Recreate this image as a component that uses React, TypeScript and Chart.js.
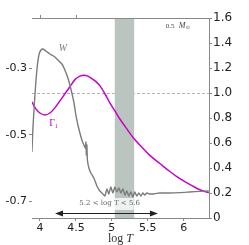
import React, { useEffect, useRef } from "react";
import { Chart, registerables } from "chart.js";

Chart.register(...registerables);

const X_TICKS = [4, 4.5, 5, 5.5, 6];
const TOP_TICKS = [4, 4.5];
const LEFT_TICKS = [-0.3, -0.5, -0.7];

const W_LOGT = [3.889, 3.903, 3.931, 3.958, 3.986, 4.014, 4.042, 4.083, 4.139, 4.208, 4.25, 4.306, 4.347, 4.389, 4.417, 4.444, 4.472, 4.5, 4.528, 4.556, 4.583, 4.611, 4.632, 4.639, 4.646, 4.653, 4.66, 4.681, 4.708, 4.75, 4.792, 4.833, 4.875, 4.903, 4.931, 4.958, 4.986, 5.014, 5.042, 5.069, 5.097, 5.125, 5.153, 5.181, 5.208, 5.236, 5.264, 5.292, 5.319, 5.347, 5.375, 5.403, 5.431, 5.458, 5.486, 5.528, 5.597, 5.667, 5.806, 5.944, 6.083, 6.222, 6.347];
const W_VALUES = [-0.552, -0.48, -0.381, -0.306, -0.261, -0.246, -0.243, -0.249, -0.258, -0.267, -0.276, -0.288, -0.306, -0.33, -0.351, -0.375, -0.402, -0.441, -0.471, -0.495, -0.516, -0.531, -0.54, -0.522, -0.561, -0.531, -0.576, -0.6, -0.615, -0.63, -0.654, -0.669, -0.678, -0.684, -0.663, -0.678, -0.657, -0.675, -0.657, -0.672, -0.66, -0.675, -0.663, -0.681, -0.669, -0.684, -0.672, -0.687, -0.672, -0.684, -0.675, -0.684, -0.675, -0.681, -0.675, -0.678, -0.677, -0.675, -0.675, -0.674, -0.672, -0.67, -0.669];

const G_LOGT = [3.889, 3.944, 4.0, 4.069, 4.139, 4.208, 4.278, 4.347, 4.417, 4.486, 4.556, 4.611, 4.667, 4.722, 4.778, 4.833, 4.903, 4.972, 5.042, 5.111, 5.181, 5.292, 5.431, 5.528, 5.667, 5.806, 5.903, 6.014, 6.125, 6.222, 6.347];
const G_VALUES = [0.929, 0.873, 0.84, 0.824, 0.84, 0.881, 0.937, 0.994, 1.05, 1.107, 1.135, 1.143, 1.135, 1.115, 1.091, 1.059, 0.994, 0.921, 0.857, 0.792, 0.735, 0.646, 0.558, 0.501, 0.436, 0.372, 0.331, 0.291, 0.255, 0.226, 0.202];

const BAND = [5.04, 5.31];
const ARROW_RANGE = [4.21, 5.64];
const ARROW_W = -0.735;
const REF_GAMMA = 1.0;

const GRAY = "#7c7c7c";
const MAGENTA = "#c800c8";

const annotPlugin = {
  id: "annot",
  beforeDatasetsDraw(chart: any) {
    const { ctx, chartArea: a, scales } = chart;
    const x = scales.x;
    const y1 = scales.y1;
    ctx.save();
    // dashed reference line
    ctx.strokeStyle = "#b4b4b4";
    ctx.lineWidth = 1;
    ctx.setLineDash([3, 2]);
    const yr = Math.round(y1.getPixelForValue(REF_GAMMA)) + 0.5;
    ctx.beginPath();
    ctx.moveTo(a.left, yr);
    ctx.lineTo(a.right, yr);
    ctx.stroke();
    ctx.setLineDash([]);
    // band
    const bx0 = x.getPixelForValue(BAND[0]);
    const bx1 = x.getPixelForValue(BAND[1]);
    ctx.fillStyle = "#bac5bf";
    ctx.fillRect(bx0, a.top, bx1 - bx0, a.bottom - a.top);
    ctx.restore();
  },
  afterDatasetsDraw(chart: any) {
    const { ctx, chartArea: a, scales } = chart;
    const x = scales.x;
    const y = scales.y;
    const y1 = scales.y1;
    ctx.save();
    // arrow
    const ax0 = x.getPixelForValue(ARROW_RANGE[0]);
    const ax1 = x.getPixelForValue(ARROW_RANGE[1]);
    const ay = Math.round(y.getPixelForValue(ARROW_W)) + 0.5;
    ctx.strokeStyle = "#222";
    ctx.fillStyle = "#222";
    ctx.lineWidth = 1;
    ctx.beginPath();
    ctx.moveTo(ax0 + 5, ay);
    ctx.lineTo(ax1 - 5, ay);
    ctx.stroke();
    ctx.beginPath();
    ctx.moveTo(ax0, ay);
    ctx.lineTo(ax0 + 8, ay - 3);
    ctx.lineTo(ax0 + 8, ay + 3);
    ctx.closePath();
    ctx.fill();
    ctx.beginPath();
    ctx.moveTo(ax1, ay);
    ctx.lineTo(ax1 - 8, ay - 3);
    ctx.lineTo(ax1 - 8, ay + 3);
    ctx.closePath();
    ctx.fill();
    // label box + text
    const lx = x.getPixelForValue(4.97);
    const ly = y.getPixelForValue(-0.705);
    ctx.fillStyle = "rgba(255,255,255,0.75)";
    ctx.fillRect(lx - 24, ly - 5, 48, 12);
    ctx.fillStyle = "#666";
    ctx.font = "7px 'DejaVu Serif'";
    ctx.textAlign = "center";
    ctx.textBaseline = "middle";
    ctx.fillText("5.2 < log T < 5.6", lx, ly);
    // curve labels
    ctx.fillStyle = GRAY;
    ctx.font = "italic 10px 'Liberation Serif'";
    ctx.fillText("W", x.getPixelForValue(4.32), y.getPixelForValue(-0.24));
    ctx.fillStyle = MAGENTA;
    const gx = x.getPixelForValue(4.17);
    const gy = y1.getPixelForValue(0.76);
    ctx.font = "10px 'Liberation Serif'";
    ctx.fillText("Γ", gx, gy);
    ctx.font = "6px 'Liberation Serif'";
    ctx.fillText("1", gx + 4, gy + 3);
    // mass label
    ctx.fillStyle = "#444";
    ctx.textAlign = "left";
    const mx = x.getPixelForValue(5.75);
    const my = y1.getPixelForValue(1.535);
    ctx.font = "7px 'Liberation Serif'";
    ctx.fillText("0.5", mx, my);
    ctx.font = "italic 8px 'Liberation Serif'";
    ctx.fillText("M", mx + 13, my);
    ctx.font = "5px 'DejaVu Sans'";
    ctx.fillText("⊙", mx + 20, my + 2);
    // top spine and ticks
    ctx.strokeStyle = "#888";
    ctx.lineWidth = 1;
    ctx.beginPath();
    ctx.moveTo(a.left, a.top + 0.5);
    ctx.lineTo(a.right, a.top + 0.5);
    ctx.stroke();
    TOP_TICKS.forEach((v) => {
      const tx = Math.round(x.getPixelForValue(v)) + 0.5;
      ctx.beginPath();
      ctx.moveTo(tx, a.top);
      ctx.lineTo(tx, a.top - 3);
      ctx.stroke();
    });
    // x axis title
    ctx.fillStyle = "#333";
    ctx.textBaseline = "middle";
    const cx = (a.left + a.right) / 2;
    ctx.font = "12px 'Liberation Serif'";
    const w1 = ctx.measureText("log ").width;
    ctx.font = "italic 12px 'Liberation Serif'";
    const w2 = ctx.measureText("T").width;
    const sx = cx - (w1 + w2) / 2;
    ctx.font = "12px 'Liberation Serif'";
    ctx.textAlign = "left";
    ctx.fillText("log ", sx, 239);
    ctx.font = "italic 12px 'Liberation Serif'";
    ctx.fillText("T", sx + w1, 239);
    ctx.restore();
  },
};

export default function App() {
  const ref = useRef<HTMLCanvasElement>(null);
  useEffect(() => {
    if (!ref.current) return;
    const chart = new Chart(ref.current, {
      type: "line",
      data: {
        datasets: [
          {
            label: "W",
            data: W_LOGT.map((t, i) => ({ x: t, y: W_VALUES[i] })),
            borderColor: GRAY,
            borderWidth: 1.4,
            pointRadius: 0,
            tension: 0.2,
            yAxisID: "y",
          },
          {
            label: "Γ1",
            data: G_LOGT.map((t, i) => ({ x: t, y: G_VALUES[i] })),
            borderColor: MAGENTA,
            borderWidth: 1.5,
            pointRadius: 0,
            cubicInterpolationMode: "monotone",
            yAxisID: "y1",
          },
        ],
      },
      options: {
        responsive: false,
        animation: false,
        layout: { padding: { top: 18, left: 0, right: 0, bottom: 0 } },
        plugins: { legend: { display: false }, tooltip: { enabled: false } },
        scales: {
          x: {
            type: "linear",
            position: "bottom",
            min: 3.89,
            max: 6.35,
            afterBuildTicks: (s: any) => {
              s.ticks = X_TICKS.map((v) => ({ value: v }));
            },
            afterFit: (s: any) => {
              s.height = 27;
            },
            ticks: {
              font: { family: "'DejaVu Sans'", size: 11 },
              color: "#222",
              padding: 1,
              maxRotation: 0,
              callback: (v: any) => String(v),
            },
            grid: { drawOnChartArea: false, drawTicks: true, tickLength: 3, color: "#888" },
            border: { display: true, color: "#888" },
          },
          y: {
            type: "linear",
            position: "left",
            min: -0.75,
            max: -0.15,
            afterBuildTicks: (s: any) => {
              s.ticks = LEFT_TICKS.map((v) => ({ value: v }));
            },
            afterFit: (s: any) => {
              s.width = 32;
            },
            ticks: {
              font: { family: "'DejaVu Sans'", size: 11 },
              color: "#222",
              padding: 2,
              callback: (v: any) => Number(v).toFixed(1),
            },
            grid: { drawOnChartArea: false, drawTicks: true, tickLength: 3, color: "#888" },
            border: { display: false },
          },
          y1: {
            type: "linear",
            position: "right",
            min: 0,
            max: 1.6,
            afterFit: (s: any) => {
              s.width = 40;
            },
            ticks: {
              stepSize: 0.2,
              font: { family: "'DejaVu Sans'", size: 12 },
              color: "#222",
              padding: 1,
              callback: (v: any) => (Number(v) === 0 ? "0" : Number(v).toFixed(1)),
            },
            grid: { drawOnChartArea: false, drawTicks: true, tickLength: 3, color: "#888" },
            border: { display: true, color: "#888" },
          },
        },
      },
      plugins: [annotPlugin],
    });
    return () => chart.destroy();
  }, []);
  return (
    <div style={{ position: "absolute", left: 0, top: 0, width: 249, height: 245, background: "#fff" }}>
      <canvas ref={ref} width={249} height={245} />
    </div>
  );
}
